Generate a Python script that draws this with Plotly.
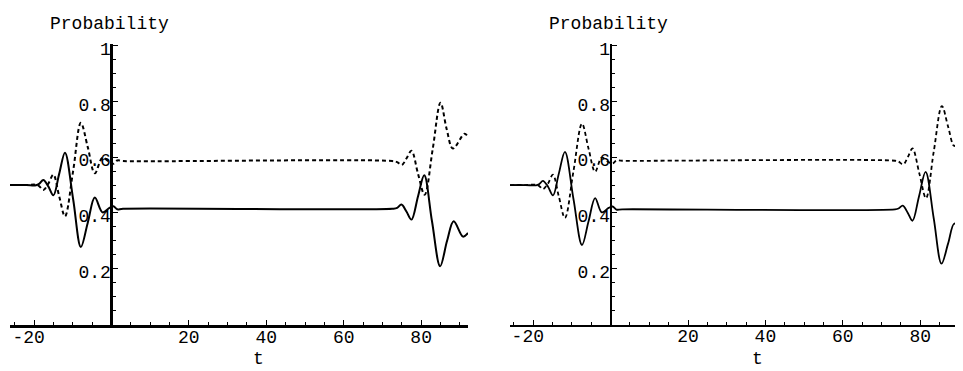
import plotly.graph_objects as go

# ---------------- data ----------------
x_ticks = [-20, 20, 40, 60, 80]
x_tick_text = ["-20\u00a0", "20", "40", "60", "80"]
y_ticks = [0.2, 0.4, 0.6, 0.8, 1.0]
y_tick_text = ["0.2", "0.4", "0.6", "0.8", "1"]

# left panel
t_left_solid = [-26.2, -22.0, -19.5, -18.6, -17.6, -16.3, -15.0, -13.5, -12.0, -9.9, -7.9,
                -6.1, -4.3, -2.3, -0.5, 0.5, 1.5, 3.0, 72.5, 73.8, 74.9, 76.2, 77.5,
                79.2, 80.8, 82.8, 84.9, 86.7, 88.4, 90.8, 92.1]
p_left_solid = [0.500, 0.500, 0.499, 0.505, 0.518, 0.495, 0.463, 0.540, 0.616, 0.450, 0.278,
                0.366, 0.455, 0.402, 0.418, 0.424, 0.413, 0.415, 0.415, 0.418, 0.430, 0.405, 0.376,
                0.460, 0.535, 0.370, 0.209, 0.300, 0.370, 0.315, 0.328]

t_left_dash = [-26.2, -22.0, -19.5, -18.6, -17.6, -16.3, -15.0, -13.5, -12.0, -9.9, -7.9,
               -6.1, -4.3, -2.3, -0.5, 0.5, 1.5, 3.0, 72.5, 73.8, 75.0, 76.2, 77.5,
               79.2, 80.9, 83.0, 85.0, 86.6, 88.2, 91.2, 92.1]
p_left_dash = [0.500, 0.500, 0.501, 0.495, 0.482, 0.505, 0.537, 0.460, 0.388, 0.550, 0.723,
               0.635, 0.542, 0.598, 0.582, 0.576, 0.588, 0.586, 0.586, 0.582, 0.572, 0.595, 0.623,
               0.540, 0.465, 0.630, 0.795, 0.700, 0.631, 0.684, 0.672]

# right panel
t_right_solid = [-26.0, -22.0, -19.3, -18.4, -17.5, -16.2, -14.9, -13.4, -11.8, -9.6, -7.4,
                 -5.7, -4.0, -2.3, -0.5, 0.5, 1.5, 3.0, 73.5, 74.4, 75.5, 76.8, 78.0,
                 79.7, 81.4, 83.5, 85.5, 87.2, 88.8, 90.8]
p_right_solid = [0.500, 0.500, 0.499, 0.504, 0.515, 0.495, 0.463, 0.540, 0.619, 0.450, 0.285,
                 0.370, 0.453, 0.402, 0.418, 0.423, 0.412, 0.413, 0.413, 0.416, 0.426, 0.400, 0.372,
                 0.460, 0.547, 0.380, 0.218, 0.290, 0.362, 0.315]

t_right_dash = [-26.0, -22.0, -19.3, -18.4, -17.5, -16.2, -14.9, -13.4, -11.8, -9.6, -7.4,
                -5.7, -4.0, -2.3, -0.5, 0.5, 1.5, 3.0, 73.5, 74.4, 75.6, 76.8, 78.0,
                79.8, 81.5, 83.5, 85.6, 87.2, 88.8, 90.8]
p_right_dash = [0.500, 0.500, 0.501, 0.496, 0.485, 0.505, 0.537, 0.460, 0.382, 0.550, 0.720,
                0.630, 0.548, 0.598, 0.582, 0.577, 0.588, 0.587, 0.587, 0.584, 0.574, 0.600, 0.631,
                0.540, 0.453, 0.620, 0.783, 0.710, 0.640, 0.684]

# ---------------- layout geometry ----------------
OFF = 8                      # page body margin
W, H = 963 - OFF, 371 - OFF  # figure size
FONT = "Liberation Mono, Courier New, monospace"


def px_x(X):
    return (X - OFF) / W


def px_y(Y):
    return 1 - (Y - OFF) / H


left_x_range = [-26.2, 92.1]
right_x_range = [-26.0, 90.8]
y_range = [0.0, 1.005]

left_dom = [px_x(10), px_x(468)]
right_dom = [px_x(510), px_x(962)]
y_dom = [px_y(324), px_y(40.5)]


def zero_pos(dom, rng):
    return dom[0] + (0 - rng[0]) / (rng[1] - rng[0]) * (dom[1] - dom[0])


fig = go.Figure()

for (ts, ps, td, pd_, xa, ya, w) in [
    (t_left_solid, p_left_solid, t_left_dash, p_left_dash, "x", "y", 2.0),
    (t_right_solid, p_right_solid, t_right_dash, p_right_dash, "x2", "y2", 1.8),
]:
    fig.add_trace(go.Scatter(x=ts, y=ps, mode="lines", xaxis=xa, yaxis=ya,
                             line=dict(color="black", width=w, shape="spline", smoothing=1.0),
                             showlegend=False, hoverinfo="skip"))
    fig.add_trace(go.Scatter(x=td, y=pd_, mode="lines", xaxis=xa, yaxis=ya,
                             line=dict(color="black", width=w, shape="spline", smoothing=1.0,
                                       dash="4px,3px"),
                             showlegend=False, hoverinfo="skip"))


def xaxis_cfg(dom, rng, anchor, lw):
    return dict(domain=dom, range=rng, anchor=anchor, showgrid=False, zeroline=False,
                showline=True, linecolor="black", linewidth=lw,
                tickmode="array", tickvals=x_ticks, ticktext=x_tick_text,
                ticks="inside", ticklen=5, tickwidth=1, tickcolor="black",
                ticklabelstandoff=-6,
                minor=dict(ticks="inside", ticklen=3, tickwidth=1, tickcolor="black",
                           tickmode="linear", tick0=0, dtick=5),
                tickfont=dict(family=FONT, size=18, color="black"))


def yaxis_cfg(pos, lw):
    return dict(domain=y_dom, range=y_range, anchor="free", position=pos, showgrid=False,
                zeroline=False, showline=True, linecolor="black", linewidth=lw,
                tickmode="array", tickvals=y_ticks, ticktext=y_tick_text,
                ticks="inside", ticklen=5, tickwidth=1, tickcolor="black",
                ticklabelstandoff=-4, ticklabelshift=3,
                minor=dict(ticks="inside", ticklen=3, tickwidth=1, tickcolor="black",
                           tickmode="linear", tick0=0, dtick=0.05),
                tickfont=dict(family=FONT, size=18, color="black"))


pos_left = zero_pos(left_dom, left_x_range)
pos_right = zero_pos(right_dom, right_x_range)

fig.update_layout(
    width=W, height=H,
    margin=dict(l=0, r=0, t=0, b=0),
    paper_bgcolor="white", plot_bgcolor="rgba(0,0,0,0)",
    xaxis=xaxis_cfg(left_dom, left_x_range, "y", 3),
    yaxis=yaxis_cfg(pos_left, 3),
    xaxis2=xaxis_cfg(right_dom, right_x_range, "y2", 2),
    yaxis2=yaxis_cfg(pos_right, 2),
)

annots = [
    dict(text="Probability", x=px_x(109.5), y=px_y(8.5), yanchor="top"),
    dict(text="Probability", x=px_x(608), y=px_y(8.5), yanchor="top"),
    dict(text="t", x=px_x(258), y=px_y(359), yanchor="middle"),
    dict(text="t", x=px_x(757), y=px_y(359), yanchor="middle"),
]
for a in annots:
    fig.add_annotation(xref="paper", yref="paper", showarrow=False,
                       xanchor="center",
                       font=dict(family=FONT, size=18, color="black"), **a)

fig.write_html("out.html")
